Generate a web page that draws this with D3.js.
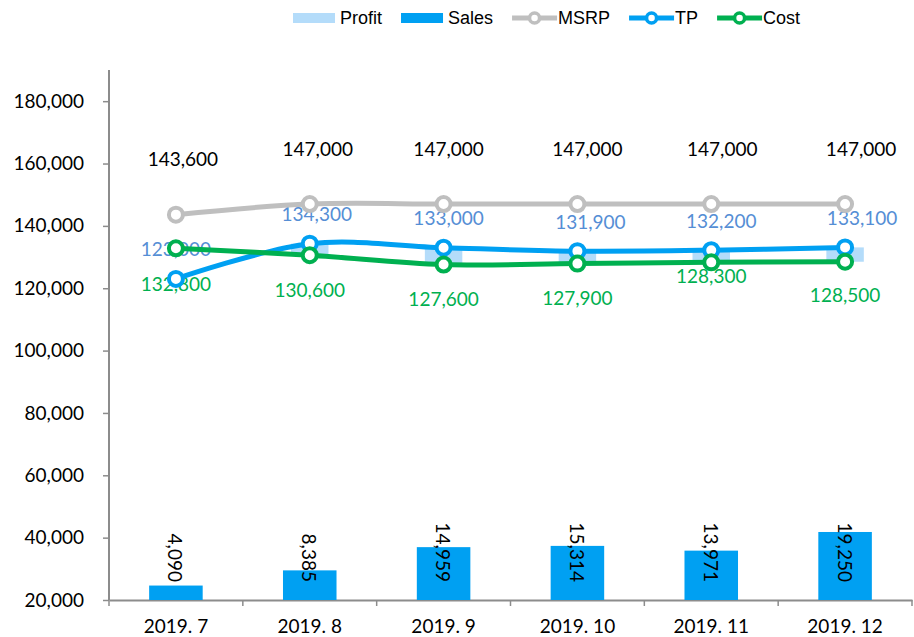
<!DOCTYPE html>
<html>
<head>
<meta charset="utf-8">
<script src="https://cdn.jsdelivr.net/npm/d3@7"></script>
<style>
  body { margin: 0; background: #fff; }
  svg { display: block; }
</style>
</head>
<body>
<div id="chart"></div>
<script>
// --- data ---
const months = ['2019. 7', '2019. 8', '2019. 9', '2019. 10', '2019. 11', '2019. 12'];
const sales = [4090, 8385, 14959, 15314, 13971, 19250];
const msrp = [143600, 147000, 147000, 147000, 147000, 147000];
const tp = [123000, 134300, 133000, 131900, 132200, 133100];
const cost = [132800, 130600, 127600, 127900, 128300, 128500];
const yTicks = [20000, 40000, 60000, 80000, 100000, 120000, 140000, 160000, 180000];

// profit = TP - Cost, drawn as a floating bar on top of cost
const profit = tp.map((v, i) => v - cost[i]);

// small label nudges (the source labels were moved by hand)
const msrpLabelDx = [7, 8, 5, 10, 11, 16];
const tpLabelDx = [0, 7, 5, 13, 10, 17];
const costLabelDy = [35, 34, 34, 34, 13, 33];

const width = 914, height = 637;
const margin = { top: 70, right: 2, bottom: 37, left: 109 };
const innerW = width - margin.left - margin.right;
const innerH = height - margin.top - margin.bottom;

const numFont = 'Lato, "Open Sans", sans-serif';
const numSize = '19px';
const legendFont = '"Liberation Sans", Arial, sans-serif';

const svg = d3.select('#chart').append('svg')
  .attr('width', width)
  .attr('height', height);

const g = svg.append('g').attr('transform', `translate(${margin.left},${margin.top})`);

const x = d3.scaleBand().domain(months).range([0, innerW]);
const y = d3.scaleLinear().domain([20000, 190000]).range([innerH, 0]);
const y2 = d3.scaleLinear().domain([0, 150000]).range([innerH, 0]); // hidden secondary axis
const cx = (d) => x(d) + x.bandwidth() / 2;

// axes
const yAxis = g.append('g')
  .call(d3.axisLeft(y).tickValues(yTicks).tickSize(6).tickPadding(19)
    .tickFormat(d3.format(',')));
const xAxis = g.append('g')
  .attr('transform', `translate(0,${innerH})`)
  .call(d3.axisBottom(x).tickSize(0).tickPadding(20));

[yAxis, xAxis].forEach((a) => {
  a.select('.domain').attr('stroke', '#8c8c8c').attr('stroke-width', 2);
  a.selectAll('.tick line').attr('stroke', '#8c8c8c').attr('stroke-width', 1.5);
  a.selectAll('text').attr('fill', '#000').style('font-family', numFont).style('font-size', numSize);
});
yAxis.select('.domain').attr('d', `M0,0V${innerH}`);

// x tick marks sit at the band boundaries
g.append('g').selectAll('line')
  .data(d3.range(months.length + 1))
  .join('line')
  .attr('x1', (i) => i * x.step())
  .attr('x2', (i) => i * x.step())
  .attr('y1', innerH)
  .attr('y2', innerH + 6)
  .attr('stroke', '#8c8c8c')
  .attr('stroke-width', 1.5);

// sales bars (secondary axis)
const salesW = x.bandwidth() * 0.4;
g.append('g').selectAll('rect')
  .data(sales)
  .join('rect')
  .attr('x', (d, i) => cx(months[i]) - salesW / 2)
  .attr('width', salesW)
  .attr('y', (d) => y2(d))
  .attr('height', (d) => innerH - y2(d))
  .attr('fill', '#00A0F2');

g.append('g').selectAll('text')
  .data(sales)
  .join('text')
  .attr('transform', (d, i) => `translate(${cx(months[i])},${innerH - 18}) rotate(90)`)
  .attr('text-anchor', 'end')
  .attr('dominant-baseline', 'central')
  .style('font-family', numFont)
  .style('font-size', numSize)
  .attr('fill', '#000')
  .text((d) => d3.format(',')(d));

// profit bars, floating on cost
const profitW = x.bandwidth() * 0.28;
g.append('g').selectAll('rect')
  .data(profit.map((p, i) => ({ p, i })).filter((d) => d.p > 0))
  .join('rect')
  .attr('x', (d) => cx(months[d.i]) - profitW / 2)
  .attr('width', profitW)
  .attr('y', (d) => y(cost[d.i] + d.p))
  .attr('height', (d) => y(cost[d.i]) - y(cost[d.i] + d.p))
  .attr('fill', '#B4DCFA');

// data labels
const fmt = d3.format(',');
const labels = g.append('g').style('font-family', numFont).style('font-size', numSize)
  .attr('text-anchor', 'middle').attr('dominant-baseline', 'central');

labels.selectAll('text.msrp').data(msrp).join('text').attr('class', 'msrp')
  .attr('x', (d, i) => cx(months[i]) + msrpLabelDx[i])
  .attr('y', (d) => y(d) - 56)
  .attr('fill', '#000')
  .text(fmt);

labels.selectAll('text.tp').data(tp).join('text').attr('class', 'tp')
  .attr('x', (d, i) => cx(months[i]) + tpLabelDx[i])
  .attr('y', (d) => y(d) - 30)
  .attr('fill', '#558ED5')
  .text(fmt);

labels.selectAll('text.cost').data(cost).join('text').attr('class', 'cost')
  .attr('x', (d, i) => cx(months[i]))
  .attr('y', (d, i) => y(d) + costLabelDy[i])
  .attr('fill', '#00B050')
  .text(fmt);

// lines with hollow markers
const line = d3.line()
  .x((d, i) => cx(months[i]))
  .y((d) => y(d))
  .curve(d3.curveCatmullRom.alpha(0.5));

const series = [
  { key: 'MSRP', values: msrp, color: '#BFBFBF' },
  { key: 'TP', values: tp, color: '#00A0F2' },
  { key: 'Cost', values: cost, color: '#00B050' }
];

series.forEach((s) => {
  const sg = g.append('g');
  sg.append('path')
    .datum(s.values)
    .attr('d', line)
    .attr('fill', 'none')
    .attr('stroke', s.color)
    .attr('stroke-width', 5);
  sg.selectAll('circle')
    .data(s.values)
    .join('circle')
    .attr('cx', (d, i) => cx(months[i]))
    .attr('cy', (d) => y(d))
    .attr('r', 7)
    .attr('fill', '#fff')
    .attr('stroke', s.color)
    .attr('stroke-width', 4);
});

// legend
const legendItems = [
  { key: 'Profit', type: 'bar', color: '#B4DCFA' },
  { key: 'Sales', type: 'bar', color: '#00A0F2' },
  { key: 'MSRP', type: 'line', color: '#BFBFBF' },
  { key: 'TP', type: 'line', color: '#00A0F2' },
  { key: 'Cost', type: 'line', color: '#00B050' }
];

const legend = svg.append('g').attr('transform', 'translate(293,18)');
let lx = 0;
legendItems.forEach((it) => {
  const ig = legend.append('g').attr('transform', `translate(${lx},0)`);
  let sw;
  if (it.type === 'bar') {
    sw = 42;
    ig.append('rect').attr('x', 0).attr('y', -5).attr('width', sw).attr('height', 10).attr('fill', it.color);
  } else {
    sw = 45;
    ig.append('line').attr('x1', 0).attr('x2', sw).attr('y1', 0).attr('y2', 0)
      .attr('stroke', it.color).attr('stroke-width', 5);
    ig.append('circle').attr('cx', sw / 2).attr('cy', 0).attr('r', 5)
      .attr('fill', '#fff').attr('stroke', it.color).attr('stroke-width', 3.5);
  }
  const pad = it.type === 'bar' ? 5 : 1;
  const t = ig.append('text')
    .attr('x', sw + pad)
    .attr('dominant-baseline', 'central')
    .style('font-family', legendFont)
    .style('font-size', '18px')
    .attr('fill', '#000')
    .text(it.key);
  lx += sw + pad + t.node().getComputedTextLength() + 19;
});
</script>
</body>
</html>
